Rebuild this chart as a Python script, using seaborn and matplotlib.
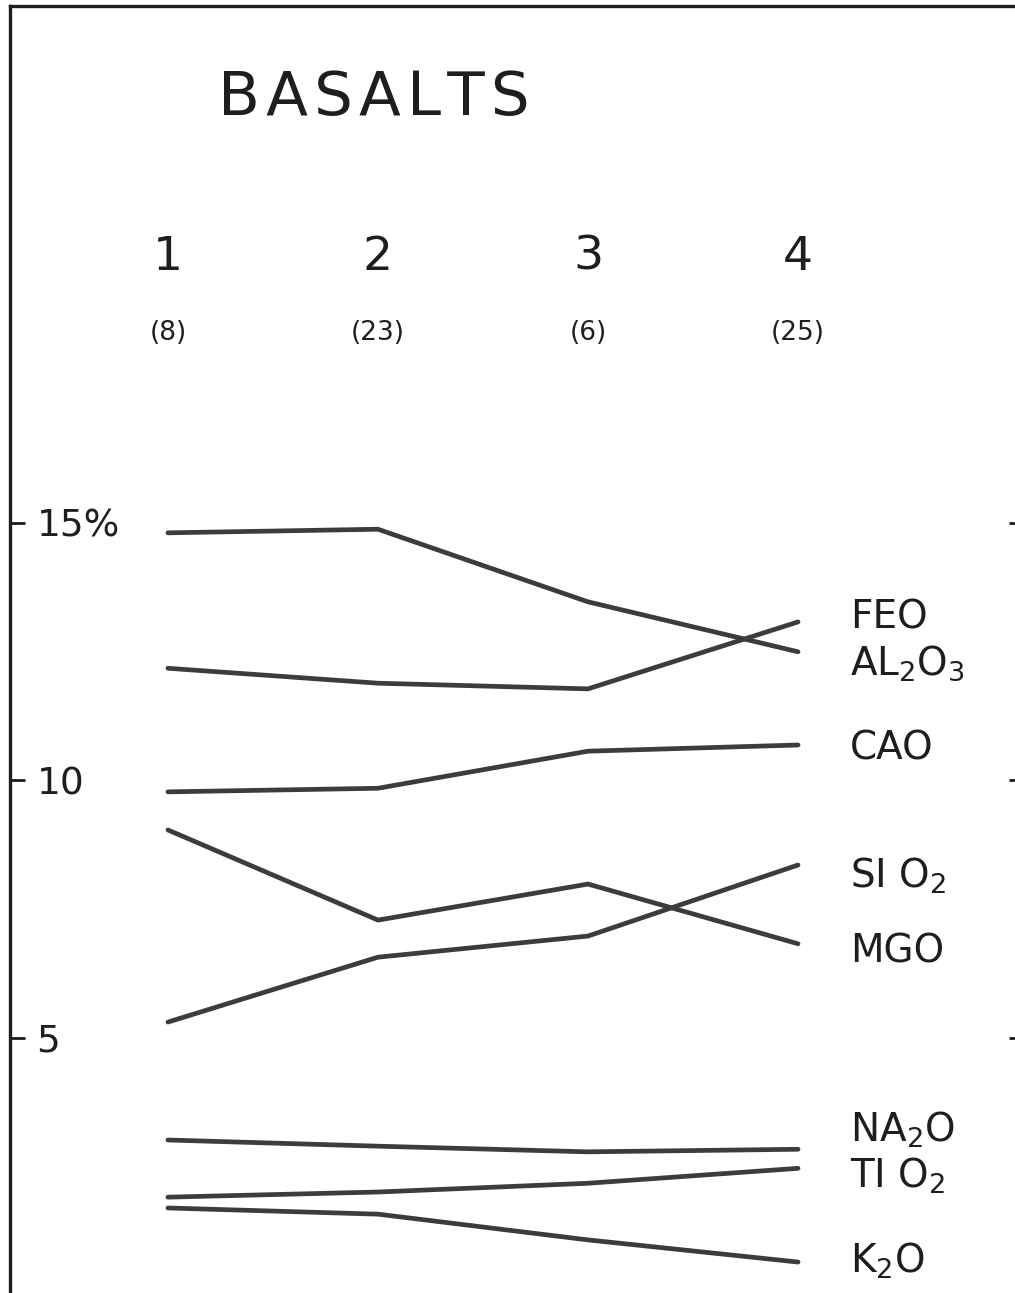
"""
Basalts: oxide percentages across four sample groups (redrawn from a scanned figure)
"""

import numpy as np
import pandas as pd
import matplotlib
matplotlib.use('Agg')
import matplotlib.pyplot as plt
import seaborn as sns

# groups along the top, with sample counts
GROUPS = [1, 2, 3, 4]
GROUP_LABELS = ['1', '2', '3', '4']
COUNTS = ['(8)', '(23)', '(6)', '(25)']

# oxide values in percent
AL2O3 = [14.80, 14.87, 13.46, 12.49]
FEO = [12.17, 11.88, 11.77, 13.07]
CAO = [9.77, 9.84, 10.56, 10.68]
MGO = [9.03, 7.28, 7.98, 6.82]
SIO2 = [5.30, 6.56, 6.97, 8.35]
NA2O = [3.01, 2.89, 2.78, 2.83]
TIO2 = [1.90, 2.00, 2.17, 2.46]
K2O = [1.69, 1.57, 1.07, 0.64]

OXIDES = ['AL2O3', 'FEO', 'CAO', 'MGO', 'SIO2', 'NA2O', 'TIO2', 'K2O']
SERIES = [AL2O3, FEO, CAO, MGO, SIO2, NA2O, TIO2, K2O]
OXIDE_TEXT = {
    'FEO': 'FEO',
    'AL2O3': r'AL$_2$O$_3$',
    'CAO': 'CAO',
    'SIO2': r'SI O$_2$',
    'MGO': 'MGO',
    'NA2O': r'NA$_2$O',
    'TIO2': r'TI O$_2$',
    'K2O': r'K$_2$O',
}
# baseline of each label relative to the line end (percent units)
LABEL_NUDGE = {
    'FEO': -0.12, 'AL2O3': -0.45, 'CAO': -0.29, 'SIO2': -0.45,
    'MGO': -0.37, 'NA2O': 0.14, 'TIO2': -0.38, 'K2O': -0.21,
}

INK = '#1e1e1e'
LINE = '#3c3c3c'

df = pd.DataFrame({
    'group': np.tile(GROUPS, len(OXIDES)),
    'oxide': np.repeat(OXIDES, len(GROUPS)),
    'pct': np.concatenate(SERIES),
})

sns.set_style('white')
plt.rcParams['font.family'] = ['DejaVu Sans']
plt.rcParams['mathtext.default'] = 'regular'

fig = plt.figure(figsize=(10.15, 12.93), dpi=100)
ax = fig.add_axes([10 / 1015, 0.0, 1 - 10 / 1015, 1 - 6 / 1293])

sns.lineplot(data=df, x='group', y='pct', hue='oxide', units='oxide',
             estimator=None, palette={o: LINE for o in OXIDES},
             linewidth=3.4, legend=False, ax=ax)

ax.set_xlim(0.248, 5.033)
ax.set_ylim(0.039, 25.03)
ax.set_xlabel('')
ax.set_ylabel('')
ax.set_xticks([])

# spines: left and top only, like the hand-drawn frame
for side in ['bottom', 'right']:
    ax.spines[side].set_visible(False)
for side in ['left', 'top']:
    ax.spines[side].set_color(INK)
    ax.spines[side].set_linewidth(2.4)

ax.set_yticks([5, 10, 15])
ax.set_yticklabels(['5', '10', '15%'])
ax.tick_params(axis='y', left=True, right=True, direction='in', length=11,
               width=2.0, color=INK, pad=-19, labelsize=27, labelcolor=INK)
for lab in ax.get_yticklabels():
    lab.set_horizontalalignment('left')
# the marks on the right edge are only small stubs
for t in ax.yaxis.get_major_ticks():
    t.tick2line.set_markersize(4)

# title, group numbers and counts
ax.text(1.238, 22.91, '\u200a'.join('BASALTS'), fontsize=44, color=INK,
        ha='left', va='baseline')
for g, name, n in zip(GROUPS, GROUP_LABELS, COUNTS):
    ax.text(g, 20.15, name, fontsize=34, color=INK, ha='center', va='center')
    ax.text(g, 18.68, n, fontsize=19, color=INK, ha='center', va='center')

# oxide names at the right end of each line
for ox, vals in zip(OXIDES, SERIES):
    ax.text(4.248, vals[-1] + LABEL_NUDGE[ox], OXIDE_TEXT[ox], fontsize=28,
            color=INK, ha='left', va='baseline')

fig.savefig('out.png', dpi=100, facecolor='white')
